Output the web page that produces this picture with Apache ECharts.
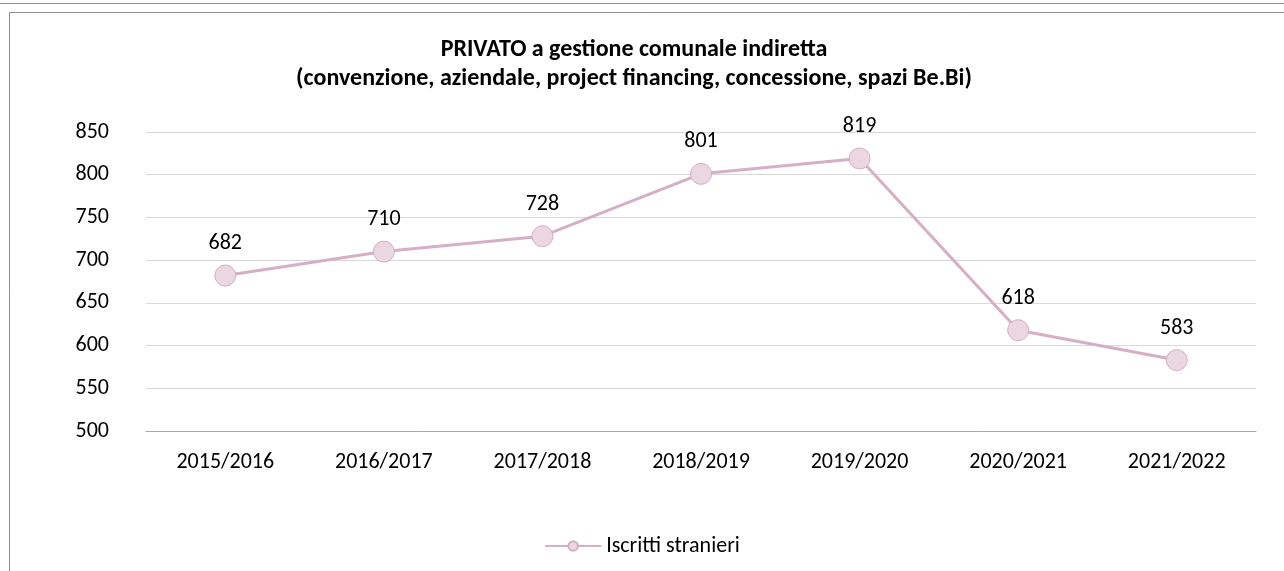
<!DOCTYPE html>
<html>
<head>
<meta charset="utf-8">
<script src="https://cdn.jsdelivr.net/npm/echarts@6/dist/echarts.min.js"></script>
<style>
  html, body { margin: 0; padding: 0; background: #fff; }
  #chart { width: 1284px; height: 571px; }
</style>
</head>
<body>
<div id="chart"></div>
<script>
// anni scolastici
const categories = ['2015/2016', '2016/2017', '2017/2018', '2018/2019', '2019/2020', '2020/2021', '2021/2022'];
// iscritti stranieri
const iscritti = [682, 710, 728, 801, 819, 618, 583];
const seriesName = 'Iscritti stranieri';
const titleLines = [
    'PRIVATO a gestione comunale indiretta',
    '(convenzione, aziendale, project financing, concessione, spazi Be.Bi)'
];

const font = 'Carlito, Calibri, "Noto Sans", sans-serif';

const chart = echarts.init(document.getElementById('chart'));
chart.setOption({
    animation: false,
    backgroundColor: '#fff',
    title: {
        text: titleLines.join('\n'),
        left: 629,
        top: 30,
        textAlign: 'center',
        textStyle: {
            fontFamily: font,
            fontSize: 24,
            fontWeight: 'bold',
            color: '#000',
            lineHeight: 29
        }
    },
    // bordi del riquadro
    graphic: [
        {type: 'line', shape: {x1: 0, y1: 3.5, x2: 1284, y2: 3.5}, style: {stroke: '#8c8c8c', lineWidth: 1}},
        {type: 'line', shape: {x1: 9.5, y1: 12.5, x2: 1284, y2: 12.5}, style: {stroke: '#8c8c8c', lineWidth: 1}},
        {type: 'line', shape: {x1: 9.5, y1: 12.5, x2: 9.5, y2: 571}, style: {stroke: '#8c8c8c', lineWidth: 1}}
    ],
    legend: {
        data: [seriesName],
        bottom: 9,
        left: 'center',
        itemWidth: 56,
        itemHeight: 12,
        itemGap: 4,
        textStyle: {fontFamily: font, fontSize: 22, color: '#000'}
    },
    grid: {left: 146, right: 28, top: 132, bottom: 140},
    xAxis: {
        type: 'category',
        data: categories,
        axisTick: {show: false},
        axisLine: {lineStyle: {color: '#a6a6a6'}},
        axisLabel: {fontFamily: font, fontSize: 22, color: '#000', margin: 20}
    },
    yAxis: {
        type: 'value',
        min: 500,
        max: 850,
        interval: 50,
        axisLine: {show: false},
        axisTick: {show: false},
        splitLine: {lineStyle: {color: '#d9d9d9'}},
        axisLabel: {fontFamily: font, fontSize: 22, color: '#000', margin: 37}
    },
    series: [{
        name: seriesName,
        type: 'line',
        data: iscritti,
        symbol: 'circle',
        symbolSize: 21,
        lineStyle: {color: '#d6afc4', width: 3},
        itemStyle: {color: '#ebd7e2', borderColor: '#d6afc4', borderWidth: 1},
        label: {
            show: true,
            position: 'top',
            distance: 10,
            fontFamily: font,
            fontSize: 22,
            color: '#000'
        }
    }]
});
</script>
</body>
</html>
